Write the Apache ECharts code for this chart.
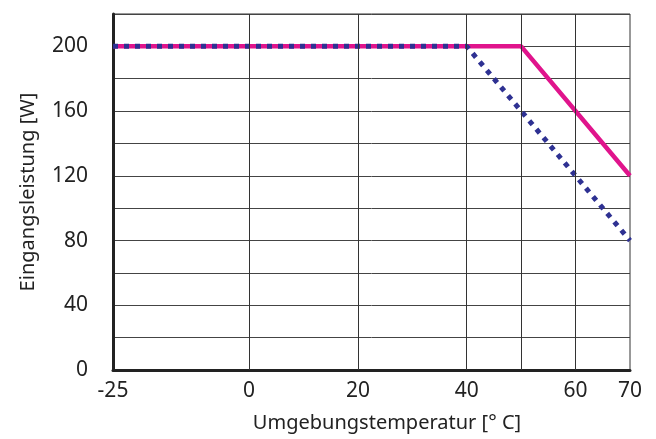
<!DOCTYPE html>
<html><head><meta charset="utf-8">
<script src="https://cdn.jsdelivr.net/npm/echarts@6/dist/echarts.min.js"></script>
<style>html,body{margin:0;padding:0;background:#fff}#c{width:656px;height:439px}</style>
</head><body><div id="c"></div>
<script>
const xTickLabels = [-25, 0, 20, 40, 60, 70];
const xGridLines = [0, 20, 40, 50, 60];
const pinkX = [-25, 50, 70];
const pinkY = [200, 200, 120];
const blueX = [-25, 40, 70];
const blueY = [200, 200, 80];
const yLabeled = [0, 40, 80, 120, 160, 200];

const FONT = 'Noto Sans';
const chart = echarts.init(document.getElementById('c'), null, {renderer: 'canvas'});
chart.setOption({
  animation: false,
  grid: {left: 113, right: 26, top: 14, bottom: 69, show: true, borderColor: '#333', borderWidth: 1},
  xAxis: {
    type: 'value', min: -25, max: 70,
    name: 'Umgebungstemperatur [° C]', nameLocation: 'middle', nameGap: 43,
    nameTextStyle: {fontFamily: FONT, fontSize: 20, color: '#222', padding: [0, 0, 0, 31]},
    axisLine: {show: true, onZero: false, lineStyle: {color: '#222', width: 3}},
    axisTick: {show: false},
    splitLine: {show: false},
    axisLabel: {customValues: xTickLabels, fontFamily: FONT, fontSize: 21, color: '#222', margin: 11}
  },
  yAxis: {
    type: 'value', min: 0, max: 220, interval: 20,
    name: 'Eingangsleistung [W]', nameLocation: 'middle', nameGap: 75,
    nameTextStyle: {fontFamily: FONT, fontSize: 20, color: '#222'},
    axisLine: {show: true, onZero: false, lineStyle: {color: '#222', width: 3}},
    axisTick: {show: false},
    splitLine: {show: true, lineStyle: {color: '#444', width: 1}},
    axisLabel: {fontFamily: FONT, fontSize: 21, color: '#222', margin: 25,
      formatter: v => yLabeled.includes(v) ? String(v) : ''}
  },
  series: [
    {
      type: 'line', data: [], silent: true,
      markLine: {silent: true, symbol: 'none', label: {show: false},
        lineStyle: {color: '#333', width: 1, type: 'solid'},
        data: xGridLines.map(v => ({xAxis: v}))}
    },
    {
      type: 'line', showSymbol: false, z: 3,
      data: pinkX.map((x, i) => [x, pinkY[i]]),
      lineStyle: {color: '#e0148c', width: 4.5}
    },
    {
      type: 'line', showSymbol: false, z: 4,
      data: blueX.map((x, i) => [x, blueY[i]]),
      lineStyle: {color: '#2e3192', width: 5, type: [5, 6], cap: 'butt'}
    }
  ]
});
</script></body></html>
